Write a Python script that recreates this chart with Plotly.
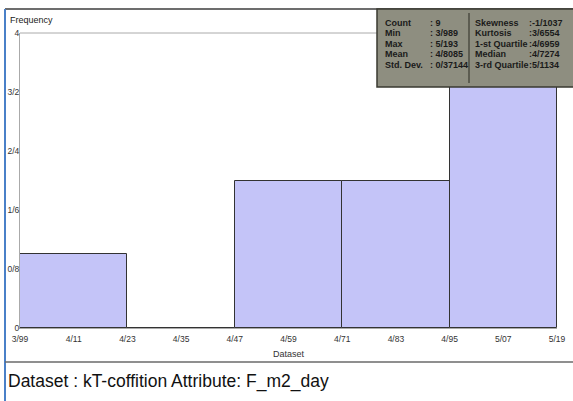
import plotly.graph_objects as go

# ---- data ----
bin_edges = [3.99, 4.23, 4.47, 4.71, 4.95, 5.19]
counts = [1, 0, 2, 2, 4]
x_tick_vals = [3.99, 4.11, 4.23, 4.35, 4.47, 4.59, 4.71, 4.83, 4.95, 5.07, 5.19]
x_tick_text = ["3/99", "4/11", "4/23", "4/35", "4/47", "4/59", "4/71", "4/83", "4/95", "5/07", "5/19"]
y_tick_vals = [0, 0.8, 1.6, 2.4, 3.2, 4]
y_tick_text = ["0", "0/8", "1/6", "2/4", "3/2", "4"]
stat_names_left = ["Count", "Min", "Max", "Mean", "Std. Dev."]
stat_values_left = ["9", "3/989", "5/193", "4/8085", "0/37144"]
stat_names_right = ["Skewness", "Kurtosis", "1-st Quartile", "Median", "3-rd Quartile"]
stat_values_right = ["-1/1037", "3/6554", "4/6959", "4/7274", "5/1134"]
caption = "Dataset : kT-coffition Attribute: F_m2_day"

W, H = 573, 401
L, R, T, B = 20, 557, 33, 328

def px(x):
    return (x - L) / (R - L)

def py(y):
    return (B - y) / (B - T)

centers = [(a + b) / 2 for a, b in zip(bin_edges[:-1], bin_edges[1:])]
widths = [b - a for a, b in zip(bin_edges[:-1], bin_edges[1:])]

fig = go.Figure()
fig.add_trace(go.Bar(
    x=centers, y=counts, width=widths,
    marker=dict(color="#c4c4f8", line=dict(color="#333333", width=1)),
    hoverinfo="skip",
))

shapes = []
# outer frame
shapes.append(dict(type="line", xref="paper", yref="paper", x0=px(5), x1=px(575), y0=py(9), y1=py(9),
                   line=dict(color="#3c3c3c", width=1.5), layer="below"))
shapes.append(dict(type="line", xref="paper", yref="paper", x0=px(5), x1=px(5), y0=py(9), y1=py(402),
                   line=dict(color="#4a80c8", width=2), layer="below"))
shapes.append(dict(type="line", xref="paper", yref="paper", x0=px(5), x1=px(575), y0=py(362), y1=py(362),
                   line=dict(color="#6a6a6a", width=1.5), layer="below"))
# plot top border
shapes.append(dict(type="line", xref="paper", yref="paper", x0=0, x1=1, y0=1, y1=1,
                   line=dict(color="#aaaaaa", width=1), layer="below"))
# stats box
shapes.append(dict(type="rect", xref="paper", yref="paper", x0=px(377), x1=px(576), y0=py(9), y1=py(87),
                   fillcolor="#8e8e80", line=dict(color="#3a3a30", width=1.5), layer="above"))
shapes.append(dict(type="line", xref="paper", yref="paper", x0=px(469), x1=px(469), y0=py(13), y1=py(83),
                   line=dict(color="#2a2a22", width=1), layer="above"))

annotations = []
row_y = [22.5, 33, 43.5, 54, 64.5]
bf = dict(family="Liberation Sans", size=9, color="#1a1a1a")
for i, yy in enumerate(row_y):
    annotations.append(dict(xref="paper", yref="paper", x=px(383), y=py(yy), text="<b>%s</b>" % stat_names_left[i],
                            showarrow=False, xanchor="left", yanchor="middle", font=bf))
    annotations.append(dict(xref="paper", yref="paper", x=px(428), y=py(yy), text="<b>: %s</b>" % stat_values_left[i],
                            showarrow=False, xanchor="left", yanchor="middle", font=bf))
    annotations.append(dict(xref="paper", yref="paper", x=px(473), y=py(yy), text="<b>%s</b>" % stat_names_right[i],
                            showarrow=False, xanchor="left", yanchor="middle", font=bf))
    annotations.append(dict(xref="paper", yref="paper", x=px(527), y=py(yy), text="<b>:%s</b>" % stat_values_right[i],
                            showarrow=False, xanchor="left", yanchor="middle", font=bf))

annotations.append(dict(xref="paper", yref="paper", x=px(8), y=py(20), text="Frequency", showarrow=False,
                        xanchor="left", yanchor="middle", font=dict(family="Liberation Sans", size=9, color="#222")))
annotations.append(dict(xref="paper", yref="paper", x=px(6), y=py(381), text=caption, showarrow=False,
                        xanchor="left", yanchor="middle", font=dict(family="Liberation Sans", size=17.5, color="#111")))

fig.update_layout(
    width=W, height=H,
    margin=dict(l=L, r=W - R, t=T, b=H - B, pad=0, autoexpand=False),
    paper_bgcolor="white", plot_bgcolor="white",
    showlegend=False, bargap=0,
    shapes=shapes, annotations=annotations,
    font=dict(family="Liberation Sans", size=9, color="#333"),
    xaxis=dict(range=[bin_edges[0], bin_edges[-1]], tickvals=x_tick_vals, ticktext=x_tick_text,
               showgrid=False, zeroline=False, showline=True, linecolor="#aaaaaa", linewidth=1,
               ticks="", tickfont=dict(size=8.5, color="#333"), automargin=False,
               ticklabelstandoff=3,
               title=dict(text="Dataset", font=dict(size=9, color="#333"), standoff=7)),
    yaxis=dict(range=[0, 4], tickvals=y_tick_vals, ticktext=y_tick_text,
               showgrid=False, zeroline=False, showline=True, linecolor="#aaaaaa", linewidth=1,
               ticks="", tickfont=dict(size=8.5, color="#333"), automargin=False,
               ticklabelstandoff=-2),
)

fig.write_html("out.html", config={"displayModeBar": False},
               post_script="document.body.style.margin='0';document.body.style.overflow='hidden';")
